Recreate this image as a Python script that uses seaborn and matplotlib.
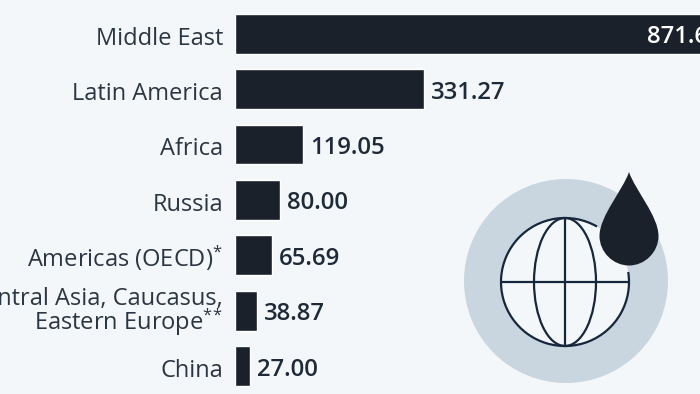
import matplotlib
matplotlib.use('Agg')
import matplotlib.pyplot as plt
from matplotlib.patches import Circle, Arc, Ellipse, PathPatch
from matplotlib.path import Path
from matplotlib.transforms import ScaledTranslation
import seaborn as sns

regions = ['Middle East', 'Latin America', 'Africa', 'Russia', 'Americas (OECD)$^{*}$',
           'Central Asia, Caucasus,\nEastern Europe$^{*\\!*}$', 'China']
reserves = [871.61, 331.27, 119.05, 80.00, 65.69, 38.87, 27.00]

BG = '#f4f7fa'
DARK = '#1a212b'
NAVY = '#16263c'
GREY = '#c9d6df'
LABEL = '#2b3643'
VALUE = '#1f2a38'
W, H = 700, 394

sns.set_theme(style='white')
plt.rcParams['font.family'] = ['Open Sans', 'DejaVu Sans']
plt.rcParams['mathtext.fontset'] = 'custom'
plt.rcParams['mathtext.rm'] = 'Open Sans'
plt.rcParams['mathtext.default'] = 'regular'

fig = plt.figure(figsize=(7, 3.94), dpi=100, facecolor=BG)

# bars fill the figure height, left edge at 235 px
left = 234.8
ax = fig.add_axes([left / W, 0, 1 - left / W, 1], facecolor='none')
sns.barplot(x=reserves, y=regions, color=DARK, saturation=1, width=0.72, ax=ax)
ax.set_xlim(0, (W - left) / 0.571)
ax.set_ylim((H - 33.7) / 55.4, -33.7 / 55.4)
ax.set_xticks([])
ax.set_xlabel('')
ax.set_ylabel('')
sns.despine(ax=ax, left=True, bottom=True)
ax.tick_params(axis='y', length=0, pad=8.5, labelsize=17, labelcolor=LABEL)
for lab in ax.get_yticklabels():
    # labels with superscripts sit lower, so they get a smaller nudge
    dy = 0 if '$' in lab.get_text() else -1.3
    lab.set_linespacing(0.8)
    lab.set_verticalalignment('center_baseline')
    lab.set_transform(lab.get_transform() + ScaledTranslation(0, dy / 72, fig.dpi_scale_trans))

for i, val in enumerate(reserves):
    if i == 0:
        ax.annotate(f'{val:.2f}', xy=(val, i), xytext=(-8, -2.5), textcoords='offset points',
                    ha='right', va='center', color='white', fontsize=17.2, fontweight='semibold',
                    annotation_clip=False)
    else:
        ax.annotate(f'{val:.2f}', xy=(val, i), xytext=(5, -2.5), textcoords='offset points',
                    ha='left', va='center', color=VALUE, fontsize=17.2, fontweight='semibold')

# globe + oil drop icon, drawn in pixel coordinates
icon = fig.add_axes([0, 0, 1, 1], facecolor='none')
icon.set_xlim(0, W)
icon.set_ylim(0, H)
icon.axis('off')

gx, gy, gr = 565, H - 282, 64
icon.add_patch(Circle((566, H - 281), 102, fc=GREY, ec='none'))
icon.add_patch(Circle((gx, gy), gr, fc=BG, ec='none'))
lw = 1.6
icon.add_patch(Arc((gx, gy), 2 * gr, 2 * gr, theta1=60, theta2=369, ec=NAVY, lw=lw))
icon.add_patch(Ellipse((gx, gy), 62, 2 * gr, fc='none', ec=NAVY, lw=lw))
icon.plot([gx, gx], [gy - gr, gy + gr], color=NAVY, lw=lw, solid_capstyle='butt')
icon.plot([gx - gr, gx + gr], [gy, gy], color=NAVY, lw=lw, solid_capstyle='butt')

dx, tip, r, cy = 629, H - 172, 29.5, H - 236
drop = Path([(dx, tip),
             (dx + 6, tip - 18), (dx + r, cy + 20), (dx + r, cy),
             (dx + r, cy - 16), (dx + 16, cy - r), (dx, cy - r),
             (dx - 16, cy - r), (dx - r, cy - 16), (dx - r, cy),
             (dx - r, cy + 20), (dx - 6, tip - 18), (dx, tip),
             (dx, tip)],
            [Path.MOVETO] + [Path.CURVE4] * 12 + [Path.CLOSEPOLY])
icon.add_patch(PathPatch(drop, fc=DARK, ec='none'))

fig.savefig('out.png', dpi=100, facecolor=BG)
